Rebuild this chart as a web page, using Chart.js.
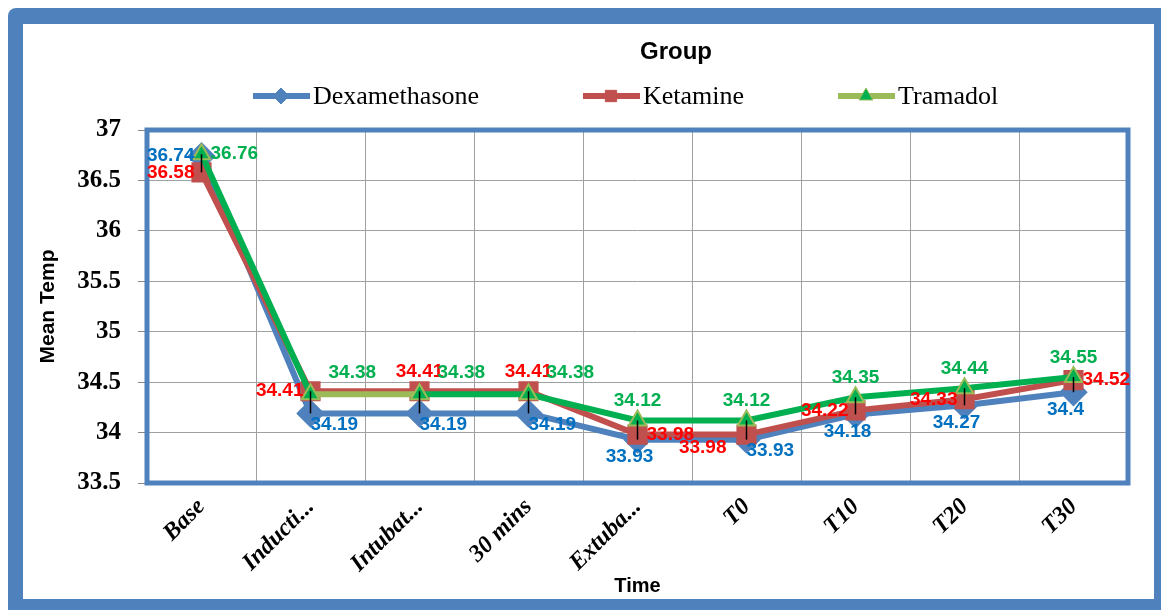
<!DOCTYPE html>
<html>
<head>
<meta charset="utf-8">
<script src="https://cdn.jsdelivr.net/npm/chart.js@4"></script>
<style>
  body { margin: 0; background: #fff; }
  #wrap { position: relative; width: 1161px; height: 610px; }
  #frame { position: absolute; left: 8px; top: 8px; right: 0; bottom: 0; background: #4f81bd; border-top-left-radius: 8px; }
  #inner { position: absolute; left: 23px; top: 24px; width: 1131px; height: 575px; background: #fff; }
  canvas { position: absolute; left: 0; top: 0; }
</style>
</head>
<body>
<div id="wrap">
  <div id="frame"></div>
  <div id="inner"></div>
  <canvas id="tempChart" width="1161" height="610"></canvas>
</div>
<script>
const times = ['Base', 'Inducti...', 'Intubat...', '30 mins', 'Extuba...', 'T0', 'T10', 'T20', 'T30'];
const dexamethasone = [36.74, 34.19, 34.19, 34.19, 33.93, 33.93, 34.18, 34.27, 34.4];
const ketamine = [36.58, 34.41, 34.41, 34.41, 33.98, 33.98, 34.22, 34.33, 34.52];
const tramadol = [36.76, 34.38, 34.38, 34.38, 34.12, 34.12, 34.35, 34.44, 34.55];
const yTicks = [33.5, 34, 34.5, 35, 35.5, 36, 36.5, 37];

// where each value label sits next to its point
const labelSides = {
  Dexamethasone: ['left', 'br', 'br', 'br', 'below', 'br', 'below', 'below', 'below'],
  Ketamine: ['left', 'left', 'above', 'above', 'right', 'bl', 'left', 'left', 'right'],
  Tramadol: ['right', 'ar', 'ar', 'ar', 'above', 'above', 'above', 'above', 'above']
};

const BLUE = '#4f81bd';

// ===== Plugins =====
const plotBorder = {
  id: 'plotBorder',
  beforeDatasetsDraw(chart) {
    const { ctx, chartArea: a } = chart;
    ctx.save();
    ctx.strokeStyle = BLUE;
    ctx.lineWidth = 5;
    ctx.strokeRect(a.left, a.top, a.right - a.left, a.bottom - a.top);
    ctx.restore();
  }
};

// thin black bars joining the three groups at each time
const spreadBars = {
  id: 'spreadBars',
  afterDatasetsDraw(chart) {
    const { ctx } = chart;
    const metas = chart.getSortedVisibleDatasetMetas();
    ctx.save();
    ctx.strokeStyle = '#000';
    ctx.lineWidth = 1.5;
    times.forEach((t, i) => {
      const ys = metas.map(m => m.data[i].y);
      const x = metas[0].data[i].x;
      ctx.beginPath();
      ctx.moveTo(x, Math.min(...ys));
      ctx.lineTo(x, Math.max(...ys));
      ctx.stroke();
    });
    ctx.restore();
  }
};

const valueLabels = {
  id: 'valueLabels',
  afterDatasetsDraw(chart) {
    const { ctx } = chart;
    ctx.save();
    ctx.font = 'bold 19px "Liberation Sans", Arial, sans-serif';
    chart.data.datasets.forEach((ds, di) => {
      const meta = chart.getDatasetMeta(di);
      const sides = labelSides[ds.label];
      meta.data.forEach((pt, i) => {
        const text = String(ds.data[i]);
        let x = pt.x, y = pt.y, align = 'center', base = 'middle';
        switch (sides[i]) {
          case 'left': x -= 7; align = 'right'; break;
          case 'right': x += 9; align = 'left'; break;
          case 'above': y -= 10; base = 'bottom'; break;
          case 'below': y += 8; base = 'top'; x -= 8; break;
          case 'br': y += 2; align = 'left'; base = 'top'; break;
          case 'bl': x -= 20; y += 4; align = 'right'; base = 'top'; break;
          case 'ar': x += 18; y -= 12; align = 'left'; base = 'bottom'; break;
        }
        ctx.fillStyle = ds.labelColor;
        ctx.textAlign = align;
        ctx.textBaseline = base;
        ctx.fillText(text, x, y);
      });
    });
    ctx.restore();
  }
};

// legend drawn as line + marker like the original
const groupLegend = {
  id: 'groupLegend',
  afterDraw(chart) {
    const { ctx } = chart;
    ctx.save();
    ctx.fillStyle = '#000';
    ctx.textAlign = 'center';
    ctx.textBaseline = 'middle';
    ctx.font = 'bold 24px "Liberation Sans", Arial, sans-serif';
    ctx.fillText('Group', 676, 52);

    const starts = [253, 583, 838];
    ctx.font = '26px "Liberation Serif", "Times New Roman", serif';
    ctx.textAlign = 'left';
    chart.data.datasets.forEach((ds, i) => {
      const x0 = starts[i], y = 96;
      ctx.strokeStyle = ds.legendLine;
      ctx.lineWidth = 6;
      ctx.beginPath();
      ctx.moveTo(x0, y);
      ctx.lineTo(x0 + 57, y);
      ctx.stroke();
      ctx.fillStyle = ds.pointBackgroundColor;
      ctx.strokeStyle = ds.pointBorderColor;
      ctx.lineWidth = 1;
      Chart.helpers.drawPoint(ctx, { pointStyle: ds.pointStyle, radius: 8, borderWidth: 1 }, x0 + 28, y);
      ctx.fillStyle = '#000';
      ctx.fillText(ds.label, x0 + 60, y + 1);
    });
    ctx.restore();
  }
};

// ===== Chart =====
const ctx = document.getElementById('tempChart').getContext('2d');

const tempChart = new Chart(ctx, {
  type: 'line',
  data: {
    labels: times,
    datasets: [{
      label: 'Dexamethasone',
      data: dexamethasone,
      borderColor: BLUE,
      legendLine: BLUE,
      labelColor: '#0070c0',
      borderWidth: 6,
      pointStyle: 'rectRot',
      pointRadius: 10,
      pointBackgroundColor: BLUE,
      pointBorderColor: BLUE,
      order: 2
    }, {
      label: 'Ketamine',
      data: ketamine,
      borderColor: '#c0504d',
      legendLine: '#c0504d',
      labelColor: '#ff0000',
      borderWidth: 6,
      pointStyle: 'rect',
      pointRadius: 10,
      pointBackgroundColor: '#c0504d',
      pointBorderColor: '#c0504d',
      order: 1
    }, {
      label: 'Tramadol',
      data: tramadol,
      borderColor: '#00b050',
      legendLine: '#9bbb59',
      labelColor: '#00b050',
      borderWidth: 6,
      segment: {
        borderColor: c => c.p0DataIndex === 1 ? '#9bbb59' : undefined
      },
      pointStyle: 'triangle',
      pointRadius: 10,
      pointBackgroundColor: '#00b050',
      pointBorderColor: '#9bbb59',
      pointBorderWidth: 2,
      order: 0
    }]
  },
  options: {
    responsive: false,
    animation: false,
    layout: { padding: { left: 30, right: 33, top: 130, bottom: 12 } },
    plugins: {
      legend: { display: false },
      title: { display: false },
      tooltip: { enabled: false }
    },
    scales: {
      x: {
        offset: true,
        grid: { color: '#a0a0a0', lineWidth: 1, offset: true, drawTicks: false },
        border: { display: false },
        ticks: {
          color: '#000',
          minRotation: 45,
          maxRotation: 45,
          padding: 10,
          font: { family: '"Liberation Serif", "Times New Roman", serif', size: 24, weight: 'bold', style: 'italic' }
        },
        title: {
          display: true,
          text: 'Time',
          color: '#000',
          padding: { top: 0, bottom: 0 },
          font: { family: '"Liberation Sans", Arial, sans-serif', size: 20, weight: 'bold' }
        },
        afterFit: scale => { scale.height = 115; }
      },
      y: {
        min: 33.5,
        max: 37,
        afterBuildTicks: scale => { scale.ticks = yTicks.map(v => ({ value: v })); },
        grid: { color: '#a0a0a0', lineWidth: 1, tickLength: 9, tickColor: '#888' },
        border: { display: false },
        ticks: {
          color: '#000',
          padding: 17,
          callback: v => String(v),
          font: { family: '"Liberation Serif", "Times New Roman", serif', size: 25, weight: 'bold' }
        },
        title: {
          display: true,
          text: 'Mean Temp',
          color: '#000',
          padding: { top: 6, bottom: 0 },
          font: { family: '"Liberation Sans", Arial, sans-serif', size: 21, weight: 'bold' }
        },
        afterFit: scale => { scale.width = 117; }
      }
    }
  },
  plugins: [plotBorder, spreadBars, valueLabels, groupLegend]
});
</script>
</body>
</html>
